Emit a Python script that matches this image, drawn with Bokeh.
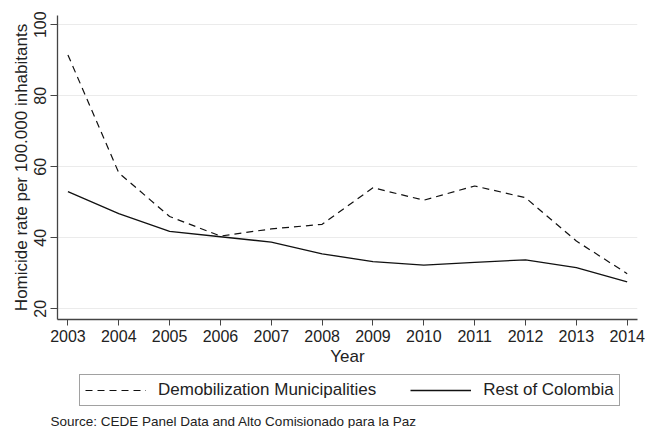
from bokeh.plotting import figure
from bokeh.models import Range1d, Legend, LegendItem, Title, FixedTicker
from bokeh.layouts import column
from bokeh.embed import file_html
from bokeh.resources import INLINE

years = [2003, 2004, 2005, 2006, 2007, 2008, 2009, 2010, 2011, 2012, 2013, 2014]
demob = [91.5, 58.3, 46.0, 40.5, 42.5, 43.8, 54.1, 50.6, 54.6, 51.3, 39.1, 29.9]
rest = [53.0, 46.8, 41.8, 40.3, 38.8, 35.5, 33.3, 32.3, 33.1, 33.8, 31.6, 27.6]
y_ticks = [20, 40, 60, 80, 100]
series_labels = ["Demobilization Municipalities", "Rest of Colombia"]
source_text = "Source: CEDE Panel Data and Alto Comisionado para la Paz"

FONT = "Liberation Sans"
TXT = "#222222"
AX = "#444444"
DASH = "7 5"

p = figure(width=646, height=369, output_backend="svg", toolbar_location=None,
           x_range=Range1d(2002.795, 2014.203), y_range=Range1d(17.0, 102.6),
           min_border_left=57, min_border_right=9, min_border_top=15, min_border_bottom=50)
p.outline_line_color = None
p.background_fill_color = "white"
p.border_fill_color = "white"

p.line(years, demob, line_color="#111111", line_width=1.2, line_dash=DASH)
p.line(years, rest, line_color="#111111", line_width=1.3)

p.xgrid.grid_line_color = None
p.ygrid.grid_line_color = "#ebebeb"
p.ygrid.grid_line_width = 1

p.xaxis.ticker = FixedTicker(ticks=years)
p.yaxis.ticker = FixedTicker(ticks=y_ticks)
for ax in (p.xaxis, p.yaxis):
    ax.axis_line_color = AX
    ax.axis_line_width = 1.3
    ax.major_tick_line_color = AX
    ax.major_tick_line_width = 1
    ax.major_tick_in = 0
    ax.major_tick_out = 7
    ax.minor_tick_line_color = None
    ax.major_label_text_font = FONT
    ax.major_label_text_font_size = "16px"
    ax.major_label_text_color = TXT
    ax.axis_label_text_font = FONT
    ax.axis_label_text_font_size = "17px"
    ax.axis_label_text_font_style = "normal"
    ax.axis_label_text_color = TXT
p.xaxis.major_tick_out = 6
p.xaxis.axis_label = "Year"
p.xaxis.axis_label_standoff = 2
p.xaxis.major_label_standoff = 4
p.yaxis.axis_label = "Homicide rate per 100.000 inhabitants"
p.yaxis.major_label_orientation = "vertical"
p.yaxis.axis_label_standoff = 1
p.yaxis.major_label_standoff = 4

# legend + source strip below the chart
q = figure(width=646, height=59, output_backend="svg", toolbar_location=None,
           x_range=Range1d(0, 1), y_range=Range1d(0, 1),
           x_axis_type=None, y_axis_type=None,
           min_border_left=57, min_border_right=9, min_border_top=0, min_border_bottom=0)
q.outline_line_color = None
q.xgrid.grid_line_color = None
q.ygrid.grid_line_color = None
q.background_fill_color = "white"
q.border_fill_color = "white"
k1 = q.line(years, demob, line_color="#111111", line_width=1.2, line_dash=DASH)
k2 = q.line(years, rest, line_color="#111111", line_width=1.3)

legend = Legend(items=[LegendItem(label=series_labels[0], renderers=[k1]),
                       LegendItem(label=series_labels[1], renderers=[k2])],
                orientation="horizontal", location=(22, 5),
                border_line_color=AX, border_line_width=1,
                label_text_font=FONT, label_text_font_size="17px", label_text_color=TXT,
                glyph_width=61, glyph_height=18, label_standoff=12, spacing=34,
                padding=5, margin=0, background_fill_alpha=0)
q.add_layout(legend, "center")

src = Title(text=source_text, text_font=FONT, text_font_size="13.5px",
            text_font_style="normal", text_color=TXT, align="left",
            offset=-7, standoff=0)
q.add_layout(src, "below")

layout = column(p, q, spacing=0)
open("out.html", "w").write(file_html(layout, INLINE))
